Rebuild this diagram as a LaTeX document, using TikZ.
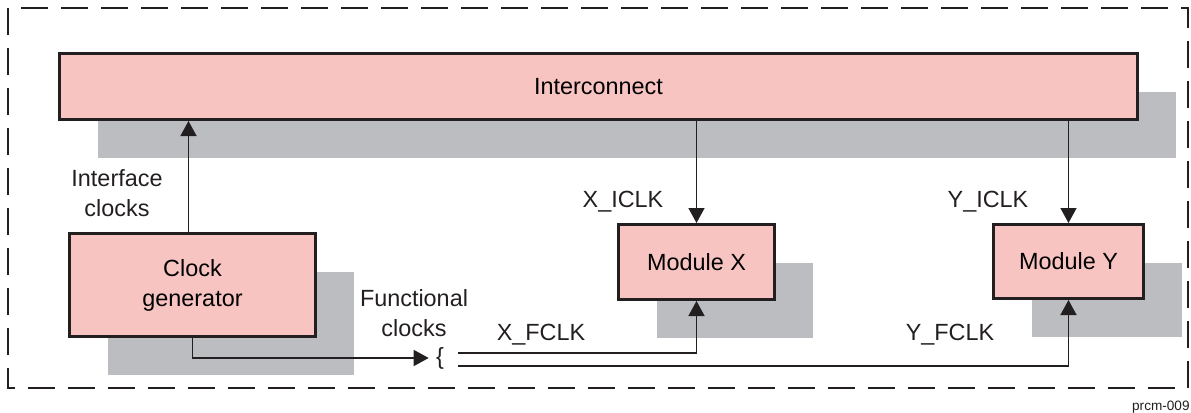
\documentclass[tikz,border=0pt]{standalone}
\usepackage{fontspec}
\setmainfont{Liberation Sans}
\usetikzlibrary{arrows.meta,shadows}
\definecolor{boxpink}{HTML}{F7C4C2}
\definecolor{shadegray}{HTML}{BCBDC1}
\definecolor{inkgray}{HTML}{231F20}
\tikzset{
  block/.style={draw=inkgray, line width=1.5pt, fill=boxpink, inner sep=0pt, align=center,
    drop shadow={shadow xshift=19pt, shadow yshift=-19pt, fill=shadegray, opacity=1}},
  sig/.style={draw=inkgray, line width=0.7pt, -{Triangle[length=7.5pt,width=8pt]}},
  lbl/.style={inner sep=0pt, align=center, text=inkgray}
}
\begin{document}
\begin{tikzpicture}[x=0.5pt, y=-0.5pt, font=\fontsize{11.7}{15}\selectfont]
\useasboundingbox (0,0) rectangle (1191,413);
\draw[inkgray, line width=1pt, dash pattern=on 13.5pt off 6.5pt] (8,8) rectangle (1188,388);

% blocks
\node[block, minimum width=539pt, minimum height=33pt] (ic) at (598.5,86.5) {Interconnect};
\node[block, minimum width=123pt, minimum height=51.5pt] (cg) at (192.5,285) {Clock\\generator};
\node[block, minimum width=78pt, minimum height=37.5pt] (mx) at (696.5,262) {Module X};
\node[block, minimum width=75pt, minimum height=37pt] (my) at (1068.5,261.5) {Module Y};

\node[lbl, inner sep=3.5pt] (br) at (440,358) {\{};
\coordinate (cgtop) at ([xshift=-2pt]cg.north);
\coordinate (xf) at (458,353);
\coordinate (yf) at (458,366);

% clocks
\draw[sig] (cgtop) -- (cgtop |- ic.south);
\draw[sig] (ic.south -| mx.north) -- (mx.north);
\draw[sig] (ic.south -| my.north) -- (my.north);
\draw[sig] (cg.south) |- (br.west);
\draw[sig] (xf) -| (mx.south);
\draw[sig] (yf) -| (my.south);

% labels
\node[lbl] (ifl) at (117,193) {Interface\\clocks};
\node[lbl] (fcl) at (414,313) {Functional\\clocks};
\node[lbl] (xil) at (623,202) {X\_ICLK};
\node[lbl] (yil) at (988,202) {Y\_ICLK};
\node[lbl] (xfl) at (541,335) {X\_FCLK};
\node[lbl] (yfl) at (950,335) {Y\_FCLK};
\node[lbl, anchor=east, font=\fontsize{6.8}{8}\selectfont] (tag) at (1190,407) {prcm-009};

\end{tikzpicture}
\end{document}
